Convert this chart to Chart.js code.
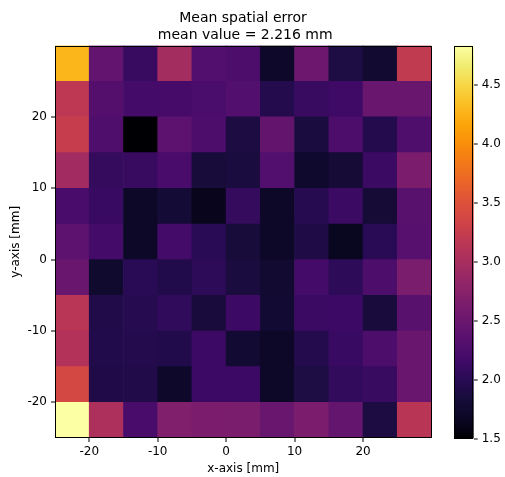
<!DOCTYPE html>
<html>
<head>
<meta charset="utf-8">
<title>Mean spatial error</title>
<script src="https://cdn.jsdelivr.net/npm/chart.js@4.4.1/dist/chart.umd.min.js"></script>
<style>
    html, body { margin: 0; padding: 0; background: #fff; }
    #wrap { position: relative; width: 505px; height: 477px; }
    #heat { position: absolute; left: 0; top: 0; }
    #cbar { position: absolute; left: 440px; top: 0; }
</style>
</head>
<body>
<div id="wrap">
    <canvas id="heat" width="486" height="477"></canvas>
    <canvas id="cbar" width="65" height="477"></canvas>
</div>
<script>
//--------------------- grid edges [mm] ----------------------
const xEdges = [-25, -20, -15, -10, -5, 0, 5, 10, 15, 20, 25, 30];
const yEdges = [30, 25, 20, 15, 10, 5, 0, -5, -10, -15, -20, -25];
const xTicks = [-20, -10, 0, 10, 20];
const yTicks = [-20, -10, 0, 10, 20];
const cbarTicks = [1.5, 2.0, 2.5, 3.0, 3.5, 4.0, 4.5];

//--------------------- error per row (top -> bottom), left -> right ----------------------
const err_25_30   = [4.28, 2.43, 2.10, 2.97, 2.30, 2.25, 1.71, 2.52, 1.90, 1.76, 3.21];
const err_20_25   = [3.18, 2.31, 2.18, 2.20, 2.24, 2.30, 1.96, 2.10, 2.14, 2.48, 2.48];
const err_15_20   = [3.25, 2.28, 1.50, 2.38, 2.25, 1.88, 2.44, 1.87, 2.25, 1.96, 2.28];
const err_10_15   = [2.95, 2.08, 2.10, 2.23, 1.83, 1.87, 2.30, 1.74, 1.80, 2.12, 2.64];
const err_5_10    = [2.22, 2.11, 1.70, 1.81, 1.63, 2.08, 1.69, 1.98, 2.12, 1.80, 2.35];
const err_0_5     = [2.38, 2.18, 1.70, 2.18, 2.00, 1.84, 1.69, 1.91, 1.64, 2.00, 2.34];
const err_m5_0    = [2.48, 1.75, 2.00, 1.94, 2.03, 1.87, 1.76, 2.18, 2.04, 2.25, 2.63];
const err_m10_m5  = [3.14, 1.93, 1.98, 2.06, 1.85, 2.13, 1.78, 2.12, 2.13, 1.85, 2.35];
const err_m15_m10 = [3.08, 1.94, 1.96, 1.94, 2.13, 1.78, 1.69, 1.96, 2.11, 2.25, 2.48];
const err_m20_m15 = [3.38, 1.92, 1.93, 1.71, 2.13, 2.13, 1.69, 1.90, 2.07, 2.10, 2.48];
const err_m25_m20 = [4.83, 3.04, 2.22, 2.68, 2.64, 2.63, 2.48, 2.64, 2.45, 1.88, 3.13];

const errRows = [err_25_30, err_20_25, err_15_20, err_10_15, err_5_10, err_0_5,
                 err_m5_0, err_m10_m5, err_m15_m10, err_m20_m15, err_m25_m20];

//--------------------- inferno colormap ----------------------
const inferno = ['#000004', '#0b0724', '#170c3a', '#280b54', '#420a68', '#57106e', '#6a176e',
                 '#7e1e6c', '#932667', '#a82e5f', '#bc3754', '#cf4446', '#dd513a', '#ea632a',
                 '#f37819', '#f98e0a', '#fca50a', '#fbbe23', '#f6d746', '#f1ed71', '#fcffa4'];

function hexRgb(h) {
    return [parseInt(h.substr(1, 2), 16), parseInt(h.substr(3, 2), 16), parseInt(h.substr(5, 2), 16)];
}
function cmap(t) {
    t = Math.max(0, Math.min(1, t));
    var pos = t * (inferno.length - 1);
    var i = Math.min(Math.floor(pos), inferno.length - 2);
    var f = pos - i;
    var a = hexRgb(inferno[i]), b = hexRgb(inferno[i + 1]);
    var c = a.map((v, k) => Math.round(v + (b[k] - v) * f));
    return 'rgb(' + c.join(',') + ')';
}

var allVals = [].concat(...errRows);
var vmin = Math.min(...allVals);
var vmax = Math.max(...allVals);

//--------------------- cells as floating bars ----------------------
var cells = [];
var cellColors = [];
for (var r = 0; r < errRows.length; r++) {
    for (var c = 0; c < errRows[r].length; c++) {
        cells.push({ x: (xEdges[c] + xEdges[c + 1]) / 2, y: [yEdges[r + 1], yEdges[r]] });
        cellColors.push(cmap((errRows[r][c] - vmin) / (vmax - vmin)));
    }
}

Chart.defaults.font.family = "'DejaVu Sans', sans-serif";
Chart.defaults.color = '#000';

// black box round the plot area
const frame = {
    id: 'frame',
    afterDatasetsDraw(chart) {
        var a = chart.chartArea, ctx = chart.ctx;
        ctx.save();
        ctx.strokeStyle = '#000';
        ctx.lineWidth = 1;
        ctx.strokeRect(Math.round(a.left) + 0.5, Math.round(a.top) + 0.5,
                       Math.round(a.right - a.left) - 1, Math.round(a.bottom - a.top) - 1);
        ctx.restore();
    }
};

var heat = new Chart(document.getElementById('heat'), {
    type: 'bar',
    data: {
        datasets: [{
            data: cells,
            backgroundColor: cellColors,
            borderWidth: 0,
            barPercentage: 1,
            categoryPercentage: 1
        }]
    },
    options: {
        responsive: false,
        animation: false,
        events: [],
        plugins: {
            legend: { display: false },
            tooltip: { enabled: false },
            title: {
                display: true,
                text: ['Mean spatial error', ' mean value = 2.216 mm'],
                color: '#000',
                font: { size: 14, weight: 'normal', lineHeight: 1.2 },
                padding: { top: 10, bottom: 2 }
            }
        },
        scales: {
            x: {
                type: 'linear',
                min: xEdges[0],
                max: xEdges[xEdges.length - 1],
                offset: false,
                afterBuildTicks: (s) => { s.ticks = xTicks.map(v => ({ value: v })); },
                afterFit: (s) => { s.height = 39; },
                grid: { offset: false, drawOnChartArea: false, lineWidth: 0, tickLength: 4, tickColor: '#000', tickWidth: 1 },
                border: { display: false },
                ticks: { font: { size: 12 }, padding: 3, maxRotation: 0 },
                title: { display: true, text: 'x-axis [mm]', font: { size: 12 }, padding: { top: 0, bottom: 1 } }
            },
            y: {
                type: 'linear',
                min: yEdges[yEdges.length - 1],
                max: yEdges[0],
                afterBuildTicks: (s) => { s.ticks = yTicks.map(v => ({ value: v })); },
                afterFit: (s) => { s.width = 55; },
                grid: { drawOnChartArea: false, lineWidth: 0, tickLength: 4, tickColor: '#000', tickWidth: 1 },
                border: { display: false },
                ticks: { font: { size: 12 }, padding: 4 },
                title: { display: true, text: 'y-axis [mm]', font: { size: 12 }, padding: { top: 9, bottom: 0 } }
            },
            // empty axis, keeps room for the colorbar on the right
            ySpace: {
                type: 'linear',
                position: 'right',
                min: 0,
                max: 1,
                afterFit: (s) => { s.width = 54.5; },
                grid: { display: false },
                border: { display: false },
                ticks: { display: false }
            }
        }
    },
    plugins: [frame]
});

//--------------------- colorbar ----------------------
var cbar = new Chart(document.getElementById('cbar'), {
    type: 'bar',
    data: {
        labels: ['error'],
        datasets: [{
            data: [[vmin, vmax]],
            borderWidth: 0,
            barPercentage: 1,
            categoryPercentage: 1,
            backgroundColor: function (ctx) {
                var ch = ctx.chart;
                if (!ch.chartArea || !ch.scales.y) return '#000';
                var y0 = ch.scales.y.getPixelForValue(vmin);
                var y1 = ch.scales.y.getPixelForValue(vmax);
                var g = ch.ctx.createLinearGradient(0, y0, 0, y1);
                inferno.forEach((col, i) => g.addColorStop(i / (inferno.length - 1), col));
                return g;
            }
        }]
    },
    options: {
        responsive: false,
        animation: false,
        events: [],
        layout: { padding: { left: 14.3, right: 0, top: 45.6, bottom: 38.5 } },
        plugins: {
            legend: { display: false },
            tooltip: { enabled: false }
        },
        scales: {
            x: { display: false },
            y: {
                position: 'right',
                min: vmin,
                max: vmax,
                afterBuildTicks: (s) => { s.ticks = cbarTicks.map(v => ({ value: v })); },
                afterFit: (s) => { s.width = 31.3; },
                grid: { drawOnChartArea: false, lineWidth: 0, tickLength: 4, tickColor: '#000', tickWidth: 1 },
                border: { display: false },
                ticks: { font: { size: 12 }, padding: 4, callback: (v) => v.toFixed(1) }
            }
        }
    },
    plugins: [frame]
});
</script>
</body>
</html>
